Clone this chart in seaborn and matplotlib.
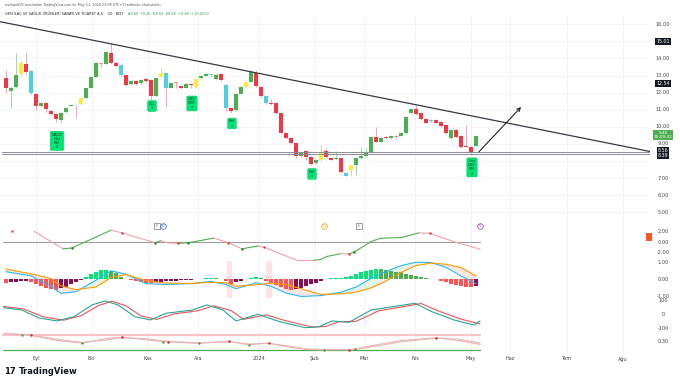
import numpy as np
import matplotlib.pyplot as plt
import seaborn as sns
from matplotlib.patches import Rectangle

# ---- price bars (3G) ----
opens = [12.86, 12.10, 12.33, 13.10, 13.68, 13.27, 11.93, 11.22, 11.40, 10.93,
         10.75, 10.40, 10.87, 11.22, 11.28, 11.34, 11.69, 12.28, 12.92, 13.74,
         13.70, 14.32, 13.74, 13.60, 13.03, 12.50, 12.68, 12.55, 12.80, 12.74,
         11.81, 12.92, 13.15, 12.28, 12.57, 12.40, 12.28, 12.47, 12.33, 12.86,
         12.97, 13.09, 12.80, 13.09, 12.45, 11.10, 10.98, 11.92, 12.33, 12.62,
         13.15, 12.33, 11.81, 11.40, 11.40, 10.81, 9.64, 9.35, 9.06, 8.30,
         8.59, 8.24, 7.89, 8.07, 8.59, 8.18, 8.10, 8.18, 7.30, 7.48,
         7.77, 8.18, 8.30, 8.53, 9.41, 9.12, 9.41, 9.35, 9.43, 9.47,
         9.64, 10.81, 11.04, 10.81, 10.46, 10.40, 10.40, 10.29, 10.11, 9.35,
         9.82, 9.47, 8.90, 8.83, 8.90]
closes = [12.28, 12.28, 13.03, 13.74, 13.21, 11.99, 11.22, 11.40, 11.05, 10.75,
          10.46, 10.81, 11.10, 11.28, 11.25, 11.69, 12.28, 12.92, 13.74, 13.68,
          14.38, 13.74, 13.56, 13.03, 12.45, 12.68, 12.50, 12.74, 12.68, 11.81,
          12.86, 13.15, 12.28, 12.57, 12.55, 12.28, 12.50, 12.44, 12.80, 12.97,
          13.09, 13.03, 13.03, 12.74, 11.10, 10.93, 11.92, 12.33, 12.62, 13.21,
          12.39, 11.81, 11.40, 11.34, 10.81, 9.64, 9.35, 9.06, 8.30, 8.47,
          8.24, 7.83, 8.07, 8.47, 8.24, 8.07, 8.18, 7.36, 7.13, 7.77,
          8.18, 8.30, 8.53, 9.41, 9.12, 9.35, 9.35, 9.47, 9.41, 9.64,
          10.58, 11.04, 10.75, 10.46, 10.23, 10.35, 10.23, 10.06, 9.64, 9.82,
          9.41, 8.83, 8.83, 8.55, 9.46]
highs = [13.33, 12.40, 14.32, 13.90, 14.32, 13.30, 12.00, 11.45, 11.45, 11.00,
         10.80, 10.85, 11.15, 11.30, 11.30, 11.75, 12.30, 12.95, 13.80, 13.80,
         14.45, 14.90, 13.80, 13.65, 13.10, 12.72, 12.72, 12.80, 12.85, 12.80,
         12.90, 13.44, 13.20, 12.60, 12.60, 12.45, 12.55, 12.50, 12.85, 13.05,
         13.15, 13.12, 13.10, 13.15, 12.50, 11.15, 11.95, 12.40, 12.65, 13.30,
         13.33, 12.40, 11.85, 11.63, 11.45, 10.85, 9.70, 9.40, 9.10, 8.55,
         8.65, 8.30, 8.10, 8.95, 8.77, 8.20, 8.59, 8.20, 7.35, 7.80,
         8.20, 8.83, 8.80, 9.45, 10.00, 9.40, 9.45, 9.50, 9.50, 9.70,
         10.60, 11.10, 11.28, 10.85, 10.50, 10.45, 10.45, 10.35, 10.15, 9.85,
         9.85, 9.50, 10.11, 8.90, 9.50]
lows = [11.98, 11.10, 12.30, 13.00, 13.10, 11.90, 10.99, 11.15, 10.87, 10.70,
        10.29, 10.23, 10.80, 11.20, 10.52, 11.30, 11.65, 12.25, 12.90, 13.50,
        13.65, 13.70, 13.50, 13.00, 12.40, 12.45, 12.45, 12.50, 12.65, 11.57,
        11.75, 12.90, 11.16, 12.25, 12.28, 12.20, 12.25, 12.30, 12.30, 12.80,
        12.95, 13.00, 12.75, 12.70, 10.90, 10.81, 10.90, 11.90, 12.30, 12.60,
        12.35, 11.75, 11.35, 11.30, 10.75, 9.60, 9.30, 9.00, 8.18, 8.25,
        8.07, 7.75, 7.85, 8.00, 8.20, 8.05, 8.05, 7.30, 7.10, 7.19,
        7.20, 8.15, 8.30, 8.50, 9.10, 9.10, 9.30, 9.30, 9.35, 9.45,
        9.60, 10.75, 10.70, 10.40, 10.20, 10.30, 10.20, 10.00, 9.60, 9.30,
        9.35, 8.77, 8.80, 8.36, 8.85]
# bar colouring of the indicator: r red, g green, y yellow, c cyan, p pale doji
bar_kind = ("rggyrcrgrr" "rgggpygggp" "grrcrgrgrr" "gycgprgryg" "gcgrcrggyg"
            "rrcrrrrrrg" "rrgyrrgrcy" "ggggrgrgpg" "ggrrrcrrrg" "rrrrg")

month_pos = [6.0, 17.1, 28.3, 38.4, 50.5, 61.7, 71.6, 81.8, 92.9, 100.8, 112.1, 123.3]
month_lbl = ["Eyl", "Eki", "Kas", "Ara", "2024", "Şub", "Mar", "Nis", "May", "Haz", "Tem", "Ağu"]

# signal boxes: bar, price, text
sig_x = [10.2, 29.2, 37.2, 45.2, 61.2, 93.2]
sig_y = [9.18, 11.22, 11.37, 10.20, 7.25, 7.63]
sig_txt = ["MACD\nHist\nRSI\n2", "CCI\n1", "OBV\nCMF\n2", "RSI\n1", "RSI\n1", "Hist\nOBV\nMFI\n2"]

# trend line / levels / arrow
trend_x = [-1.2, 128.8]
trend_y = [16.15, 8.56]
levels = [8.56, 8.39]
arrow_from = (94.2, 8.42)
arrow_to = (103.4, 11.28)

# ---- panel 2 oscillator ----
osc_x = [5.6, 11.4, 13.2, 21.0, 23.2, 29.8, 31.0, 32.4, 34.6, 36.8, 41.6, 44.4, 47.2,
         50.4, 51.6, 58.2, 61.6, 62.8, 64.2, 66.9, 68.6, 69.6, 73.0, 74.8, 79.2,
         82.6, 84.8, 89.6, 94.8]
osc_y = [2.13, -1.26, -1.10, 2.32, 1.81, -0.08, 0.30, -0.13, -0.19, -0.04, 0.81, -0.08, -1.26,
         -0.70, -0.94, -3.47, -3.47, -3.34, -2.72, -2.20, -2.26, -1.89, 0.11, 0.75, 0.94,
         1.81, 1.70, 0.11, -1.32]
osc_red_x = [1.2, 23.2, 34.4, 44.4, 51.6, 68.6, 84.8]
osc_red_y = [2.19, 1.81, -0.19, -0.08, -0.94, -2.26, 1.70]
osc_grn_x = [13.2, 29.8, 36.4, 47.2, 69.6]
osc_grn_y = [-1.10, -0.08, -0.19, -1.26, -1.89]

# ---- panel 3 MACD ----
macd_hist = [-0.20, -0.17, -0.14, -0.10, -0.08, -0.15, -0.28, -0.40, -0.50, -0.56,
             -0.60, -0.52, -0.42, -0.30, -0.15, -0.03, 0.12, 0.30, 0.45, 0.53,
             0.57, 0.50, 0.35, 0.15, 0.02, -0.05, -0.10, -0.16, -0.20, -0.22,
             -0.16, -0.13, -0.10, -0.09, -0.08, -0.06, -0.04, -0.02, 0.01, 0.04,
             0.06, 0.07, 0.05, 0.02, -0.12, -0.25, -0.18, -0.08, 0.02, 0.06,
             0.14, 0.10, -0.08, -0.20, -0.32, -0.45, -0.55, -0.62, -0.58, -0.50,
             -0.40, -0.30, -0.20, -0.08, 0.03, 0.05, 0.08, 0.10, 0.14, 0.22,
             0.32, 0.42, 0.50, 0.56, 0.60, 0.58, 0.55, 0.50, 0.45, 0.40,
             0.33, 0.26, 0.20, 0.14, 0.08, 0.04, 0.02, -0.08, -0.18, -0.27,
             -0.33, -0.38, -0.42, -0.45, -0.38]
macd_x = [0, 5, 9, 11, 14, 18, 21, 24, 28, 32, 37, 41, 44, 46, 50, 53, 56, 59, 63, 67,
          70, 73, 76, 79, 82, 85, 88, 91, 94]
macd_line = [0.45, 0.20, -0.40, -0.82, -0.72, -0.05, 0.50, 0.30, -0.25, -0.30, -0.25, -0.12,
             -0.30, -0.55, -0.20, -0.40, -0.80, -1.00, -0.95, -0.75, -0.45, 0.05, 0.45, 0.80,
             1.00, 0.98, 0.70, 0.20, -0.25]
macd_sig = [0.60, 0.32, 0.05, -0.38, -0.60, -0.45, 0.10, 0.28, -0.08, -0.22, -0.24, -0.18,
            -0.20, -0.40, -0.32, -0.22, -0.30, -0.55, -0.88, -0.85, -0.75, -0.50, -0.10, 0.40,
            0.80, 0.95, 0.88, 0.68, 0.20]

# ---- panel 4 (two lines) ----
p4_tx = [-0.5, 3.2, 6.6, 10.2, 13.6, 17.2, 19.8, 22.4, 25.8, 28.9, 32.0, 37.2, 40.2, 43.4,
         46.0, 50.4, 54.7, 59.9, 62.6, 65.2, 68.6, 73.0, 77.4, 81.8, 85.2, 89.6, 93.6, 94.8]
p4_ty = [47, 30, -26, -47, -17, 66, 94, 66, -17, -40, 7, 30, 66, 30,
         -47, 0, -52, -95, -88, -47, -57, 30, 54, 78, 18, -40, -76, -47]
p4_rx = [-0.5, 3.5, 7.5, 11.5, 15.0, 18.5, 21.2, 24.0, 27.0, 30.2, 33.5, 38.5, 41.5, 45.0,
         47.5, 52.0, 56.0, 61.2, 64.0, 66.6, 70.0, 74.5, 78.8, 83.0, 86.6, 91.0, 94.8]
p4_ry = [55, 38, -18, -42, -10, 62, 92, 60, -12, -36, 2, 26, 60, 26,
         -36, -4, -46, -90, -86, -52, -50, 24, 50, 76, 22, -34, -68]

# ---- panel 5 ----
p5_x = [-0.5, 3.2, 5.0, 10.2, 15.2, 19.8, 23.2, 27.6, 31.4, 32.4, 38.6, 44.6, 48.6,
        52.5, 56.4, 59.9, 63.6, 68.6, 69.7, 73.9, 79.1, 86.0, 90.5, 94.8]
p5_a = [0.62, 0.56, 0.54, 0.35, 0.25, 0.41, 0.48, 0.38, 0.31, 0.30, 0.24, 0.32, 0.19,
        0.25, 0.11, 0.01, 0.00, 0.01, 0.03, 0.18, 0.35, 0.45, 0.35, 0.20]
p5_b = [0.60, 0.58, 0.56, 0.40, 0.28, 0.36, 0.45, 0.42, 0.34, 0.32, 0.26, 0.29, 0.22,
        0.24, 0.15, 0.04, 0.01, 0.00, 0.01, 0.13, 0.30, 0.43, 0.40, 0.26]
p5_grn = [3.2, 15.2, 31.4, 38.6, 48.6, 63.6, 69.7]
p5_red = [5.0, 23.2, 32.4, 44.6, 52.5, 68.6, 86.0]

sns.set_theme(style="white")
plt.rcParams["font.family"] = ["DejaVu Sans"]

W, H = 680, 382
fig = plt.figure(figsize=(W / 100, H / 100), dpi=100)
fig.patch.set_facecolor("white")

def panel(top, bottom):
    ax = fig.add_axes([0, (H - bottom) / H, 650 / W, (bottom - top) / H])
    ax.set_xlim(-1.2, 128.8)
    ax.set_xticks([])
    ax.set_yticks([])
    for s in ax.spines.values():
        s.set_visible(False)
    for m in month_pos:
        ax.axvline(m, color="#eef0f5", lw=0.6, zorder=0)
    return ax

def rlabels(ax, vals, fmt="{:.2f}"):
    for v in vals:
        ax.text(1.02, v, fmt.format(v) if isinstance(fmt, str) else fmt(v),
                transform=ax.get_yaxis_transform(), ha="center", va="center",
                fontsize=3.6, color="#444444", clip_on=False)

def tag(ax, v, txt, fc, size=3.4):
    ax.text(1.02, v, txt, transform=ax.get_yaxis_transform(), ha="center", va="center",
            fontsize=size, color="white", linespacing=0.95, clip_on=False, zorder=6,
            bbox=dict(boxstyle="square,pad=0.22", fc=fc, ec="none"))

# ---------------- price panel ----------------
ax = panel(15, 216)
ax.set_ylim(4.79, 16.54)
for v in [5, 6, 7, 8, 9, 10, 11, 12, 13, 14, 15, 16]:
    ax.axhline(v, color="#f2f3f7", lw=0.5, zorder=0)
rlabels(ax, [16, 14, 13, 12, 11, 10, 9, 7, 6, 5])

body_col = {"r": "#f23645", "g": "#4caf50", "y": "#ffeb3b", "c": "#4dd0e1", "p": "#f48fa0"}
wick_col = {"r": "#f5a3ab", "g": "#a5d6a7", "y": "#d7d3a0", "c": "#f5a3ab", "p": "#f5a3ab"}
idx = np.arange(len(opens))
o = np.array(opens)
c = np.array(closes)
ax.vlines(idx, lows, highs, colors=[wick_col[k] for k in bar_kind], lw=0.7, zorder=2)
ax.bar(idx, np.maximum(np.abs(c - o), 0.05), bottom=np.minimum(o, c), width=0.72,
       color=[body_col[k] for k in bar_kind], linewidth=0, zorder=3)

ax.plot(trend_x, trend_y, color="#363a45", lw=0.9, zorder=4)
for lv in levels:
    ax.plot([-0.8, 128.8], [lv, lv], color="#8a8d96", lw=0.7, zorder=4)
ax.annotate("", xy=arrow_to, xytext=arrow_from,
            arrowprops=dict(arrowstyle="->", color="#222222", lw=0.8, mutation_scale=6), zorder=5)

for sx, sy, st in zip(sig_x, sig_y, sig_txt):
    ax.text(sx, sy, st, ha="center", va="center", fontsize=2.6, color="#1b3b22",
            linespacing=1.05, zorder=6,
            bbox=dict(boxstyle="round,pad=0.35,rounding_size=0.3", fc="#00e676", ec="#00c853", lw=0.4))

tag(ax, 15.01, "15.01", "#131722")
tag(ax, 12.54, "12.54", "#131722")
tag(ax, 9.52, "9.46\n15:09:41", "#4caf50", size=3.1)
tag(ax, 8.64, "8.56", "#131722")
tag(ax, 8.33, "8.39", "#131722")

# ---------------- panel 2 ----------------
ax2 = panel(216, 261)
ax2.set_ylim(-3.6, 5.05)
ax2.plot([-0.6, 94.8], [0, 0], color="#9e9e9e", lw=0.8, zorder=1)
for k in range(len(osc_x) - 1):
    col = "#4caf50" if osc_y[k + 1] > osc_y[k] else "#f5a0aa"
    ax2.plot(osc_x[k:k + 2], osc_y[k:k + 2], color=col, lw=0.8, zorder=2)
sns.scatterplot(x=osc_red_x, y=osc_red_y, color="#e53935", s=3, linewidth=0, ax=ax2, zorder=3)
sns.scatterplot(x=osc_grn_x, y=osc_grn_y, color="#2e7d32", s=3, linewidth=0, ax=ax2, zorder=3)
rlabels(ax2, [2, 0, -2])
ax2.set_xticks([])
# event icons
ev_y = 3.13
for ex, face, edge, letter in [(30.2, "white", "#777777", "E"), (63.6, "white", "#ff9800", "D"),
                               (70.6, "white", "#777777", "E")]:
    ax2.plot(ex, ev_y, marker="s" if letter == "E" else "o", ms=4, mfc=face, mec=edge, mew=0.5)
    ax2.text(ex, ev_y, letter, fontsize=2.3, ha="center", va="center", color=edge)
ax2.plot(31.4, ev_y, marker="o", ms=4, mfc="white", mec="#2962ff", mew=0.5)
ax2.text(31.4, ev_y, "D", fontsize=2.3, ha="center", va="center", color="#2962ff")
ax2.plot(94.8, ev_y, marker="o", ms=4, mfc="white", mec="#9c27b0", mew=0.5)
ax2.text(94.8, ev_y, "S", fontsize=2.3, ha="center", va="center", color="#9c27b0")
fig.patches.append(Rectangle((646 / W, (H - 241) / H), 6 / W, 8 / H, transform=fig.transFigure,
                             fc="#ff5722", ec="none"))

# ---------------- panel 3: MACD ----------------
ax3 = panel(261, 298)
ax3.set_ylim(-1.09, 1.07)
for a, b in [(44.2, 45.0), (52.0, 53.0)]:
    ax3.axvspan(a, b, color="#fde3e8", zorder=0)
hcol = []
for k, v in enumerate(macd_hist):
    prev = macd_hist[k - 1] if k else v
    if v >= 0:
        hcol.append("#00e676" if v >= prev else "#4caf50")
    else:
        hcol.append("#ff5252" if v <= prev else "#880e4f")
ax3.bar(idx, macd_hist, width=0.8, color=hcol, linewidth=0, zorder=2)
mx = np.array(macd_x, float)
ml = np.array(macd_line)
ms_ = np.array(macd_sig)
ax3.fill_between(mx, ml, ms_, where=ml >= ms_, color="#c8e6c9", alpha=0.5, lw=0, interpolate=True)
ax3.fill_between(mx, ml, ms_, where=ml < ms_, color="#ffd6cc", alpha=0.6, lw=0, interpolate=True)
sns.lineplot(x=macd_x, y=macd_line, color="#29b6f6", lw=0.8, ax=ax3, zorder=3)
sns.lineplot(x=macd_x, y=macd_sig, color="#ff9800", lw=0.8, ax=ax3, zorder=3)
rlabels(ax3, [1, 0, -1])
ax3.set_xticks([])
ax3.set_ylabel("")

# ---------------- panel 4 ----------------
ax4 = panel(298, 330)
ax4.set_ylim(-111, 115)
sns.lineplot(x=p4_rx, y=p4_ry, color="#ef5350", lw=0.8, ax=ax4)
sns.lineplot(x=p4_tx, y=p4_ty, color="#26a69a", lw=0.8, ax=ax4)
rlabels(ax4, [100, 0, -100], fmt=lambda v: f"{v:.0f}")
ax4.set_xticks([])
ax4.set_ylabel("")

# ---------------- panel 5 ----------------
ax5 = panel(330, 353)
ax5.set_ylim(-0.12, 0.74)
ax5.plot([-0.6, 94.8], [0.56, 0.56], color="#f8c4cc", lw=1.6, zorder=1)
ax5.plot([-0.6, 94.8], [0, 0], color="#4caf50", lw=0.9, zorder=1)
ax5.fill_between(p5_x, p5_a, p5_b, color="#f3e0d8", lw=0)
sns.lineplot(x=p5_x, y=p5_b, color="#d9c3b5", lw=0.7, ax=ax5)
sns.lineplot(x=p5_x, y=p5_a, color="#f2a9b3", lw=0.7, ax=ax5)
p5_lookup = dict(zip(p5_x, p5_a))
ax5.scatter(p5_grn, [p5_lookup[v] for v in p5_grn], color="#43a047", s=3, lw=0, zorder=4)
ax5.scatter(p5_red, [p5_lookup[v] for v in p5_red], color="#c62828", s=3, lw=0, zorder=4)
rlabels(ax5, [0.30])
ax5.set_ylabel("")
ax5.set_xticks(month_pos)
ax5.set_xticklabels(month_lbl)
ax5.tick_params(axis="x", length=0, pad=2.5, labelsize=3.6, colors="#444444")

# ---------------- header / footer ----------------
fig.text(5 / W, 1 - 5 / H,
         "nazlipa509 tarafından TradingView.com ile May 11, 2024 23:08 UTC+3 tarihinde oluşturuldu",
         fontsize=2.4, color="#555555", va="center")
t_name = fig.text(5 / W, 1 - 14 / H,
                  "GEN İLAÇ VE SAĞLIK ÜRÜNLERİ SANAYİ VE TİCARET A.Ş. · 3G · BIST",
                  fontsize=2.5, color="#222222", va="center")
fig.canvas.draw()
name_end = t_name.get_window_extent().x1
fig.text((name_end + 4) / W, 1 - 14 / H, "A8.60  Y9.46  D8.50  K9.46  +0.86 (+10.00%)",
         fontsize=2.5, color="#2e9e4f", va="center")
fig.text(4 / W, 1 - 371 / H, "17", fontsize=6, fontweight="heavy", color="#131722", va="center")
fig.text(19 / W, 1 - 371 / H, "TradingView", fontsize=6, fontweight="bold", color="#131722",
         va="center")

fig.savefig("out.png", dpi=100, facecolor="white")
